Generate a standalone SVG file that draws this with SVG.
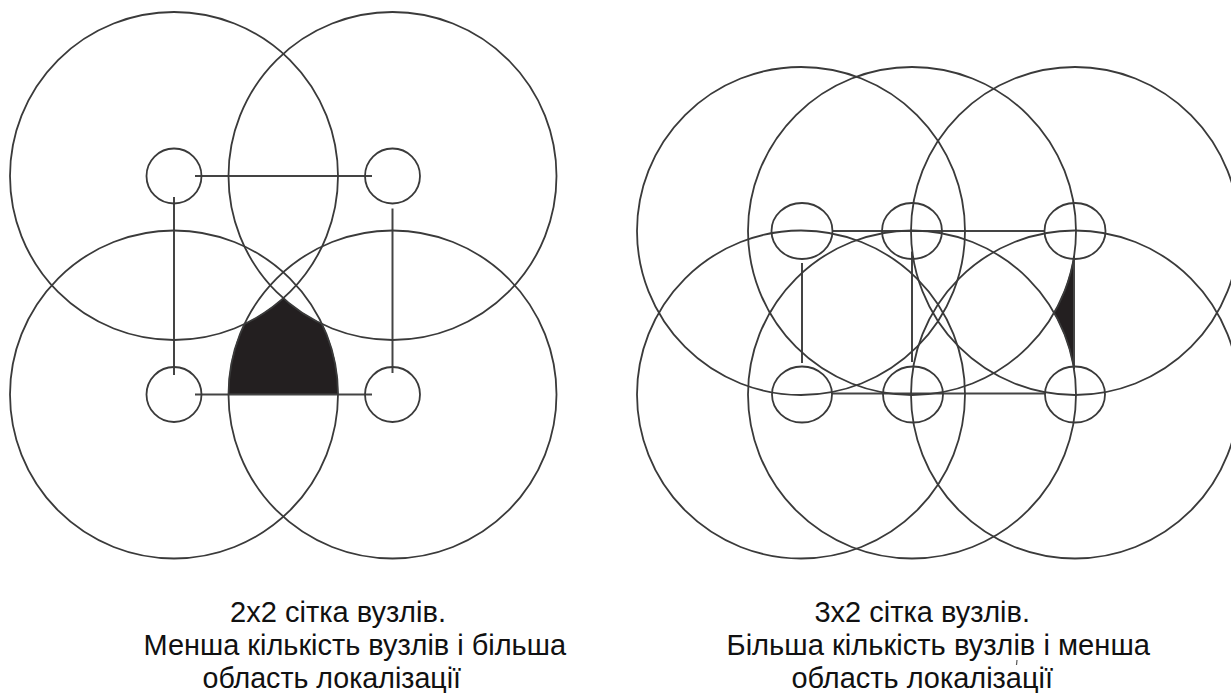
<svg xmlns="http://www.w3.org/2000/svg" width="1231" height="693" viewBox="0 0 1231 693">
  <style>
    .range { fill: none; stroke: #3a3a3a; stroke-width: 1.8; }
    .node { fill: none; stroke: #3a3a3a; stroke-width: 1.8; }
    .conn { fill: none; stroke: #444444; stroke-width: 2; }
    .area { fill: #231f20; stroke: #231f20; stroke-width: 0.8; }
    .cap { font-family: "Liberation Sans", Arial, sans-serif; font-size: 29px; fill: #111111; }
  </style>
  <rect width="1231" height="693" fill="#ffffff"/>

  <!-- Left panel: 2x2 grid -->
  <g id="left-area">
    <path class="area" d="M228.5,394.5 A164,164 0 0 1 244.35,324.15 A164,164 0 0 0 283.25,298.3 A164,164 0 0 0 322.15,324.15 A164,164 0 0 1 338,394.5 Z"/>
  </g>
  <g id="left-connectors">
    <line class="conn" x1="195" y1="176" x2="372" y2="176"/>
    <line class="conn" x1="195" y1="394.5" x2="372" y2="394.5"/>
    <line class="conn" x1="174" y1="197" x2="174" y2="375"/>
    <line class="conn" x1="392.5" y1="208.5" x2="392.5" y2="373"/>
  </g>
  <g id="L-node-tl">
    <circle class="range" cx="174" cy="176" r="164"/>
    <circle class="node" cx="174" cy="176" r="27.5"/>
  </g>
  <g id="L-node-tr">
    <circle class="range" cx="392.5" cy="176" r="164"/>
    <circle class="node" cx="392.5" cy="176" r="27.5"/>
  </g>
  <g id="L-node-bl">
    <circle class="range" cx="174" cy="394.5" r="164"/>
    <circle class="node" cx="174" cy="394.5" r="27.5"/>
  </g>
  <g id="L-node-br">
    <circle class="range" cx="392.5" cy="394.5" r="164"/>
    <circle class="node" cx="392.5" cy="394.5" r="27.5"/>
  </g>

  <!-- Right panel: 3x2 grid -->
  <g id="right-area">
    <path class="area" d="M1074,256.5 A164,164 0 0 1 1054.2,312.75 A164,164 0 0 1 1074,369 Z"/>
  </g>
  <g id="right-connectors">
    <line class="conn" x1="833" y1="231" x2="1044" y2="231"/>
    <line class="conn" x1="832" y1="393.5" x2="1045" y2="393.5"/>
    <line class="conn" x1="802" y1="263" x2="802" y2="363"/>
    <line class="conn" x1="912" y1="251.5" x2="912" y2="362"/>
    <line class="conn" x1="1074" y1="256" x2="1074" y2="369"/>
  </g>
  <g id="R-node-tl">
    <circle class="range" cx="801" cy="231" r="164"/>
    <ellipse class="node" cx="802" cy="231" rx="30.5" ry="28"/>
  </g>
  <g id="R-node-tm">
    <circle class="range" cx="912" cy="231" r="164"/>
    <ellipse class="node" cx="912" cy="231" rx="30" ry="28"/>
  </g>
  <g id="R-node-tr">
    <circle class="range" cx="1075" cy="231" r="164"/>
    <ellipse class="node" cx="1075" cy="231" rx="30.5" ry="28"/>
  </g>
  <g id="R-node-bl">
    <circle class="range" cx="801" cy="394.5" r="164"/>
    <ellipse class="node" cx="802" cy="394.5" rx="30" ry="28"/>
  </g>
  <g id="R-node-bm">
    <circle class="range" cx="912" cy="394.5" r="164"/>
    <ellipse class="node" cx="913" cy="394.5" rx="30" ry="28"/>
  </g>
  <g id="R-node-br">
    <circle class="range" cx="1075" cy="394.5" r="164"/>
    <ellipse class="node" cx="1075" cy="394.5" rx="30" ry="28"/>
  </g>

  <!-- Captions -->
  <g id="caption-left">
    <text class="cap" x="230" y="622" textLength="216" lengthAdjust="spacingAndGlyphs">2x2 сітка вузлів.</text>
    <text class="cap" x="143.5" y="655" textLength="422.5" lengthAdjust="spacingAndGlyphs">Менша кількість вузлів і більша</text>
    <text class="cap" x="202.5" y="688" textLength="258.5" lengthAdjust="spacingAndGlyphs">область локалізації</text>
  </g>
  <g id="caption-right">
    <text class="cap" x="814.5" y="622" textLength="215.5" lengthAdjust="spacingAndGlyphs">3x2 сітка вузлів.</text>
    <text class="cap" x="726.5" y="655" textLength="423.5" lengthAdjust="spacingAndGlyphs">Більша кількість вузлів і менша</text>
    <text class="cap" x="791.5" y="688" textLength="261.5" lengthAdjust="spacingAndGlyphs">область локалізації</text>
    <line x1="1017" y1="660" x2="1016.5" y2="665" stroke="#555555" stroke-width="1.2"/>
  </g>
</svg>
